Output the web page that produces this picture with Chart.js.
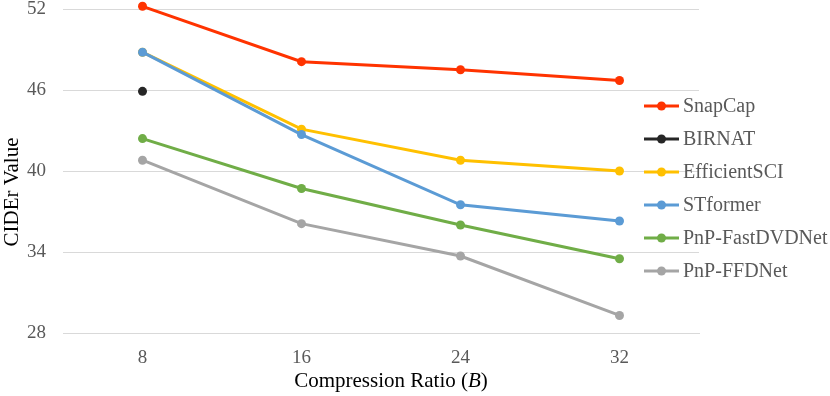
<!DOCTYPE html>
<html>
<head>
<meta charset="utf-8">
<script src="https://cdn.jsdelivr.net/npm/chart.js@4.4.1/dist/chart.umd.min.js"></script>
<style>
  html, body { margin: 0; padding: 0; background: #fff; }
  #wrap { width: 830px; height: 396px; position: relative; }
</style>
</head>
<body>
<div id="wrap"><canvas id="c" width="830" height="396"></canvas></div>
<script>
const categories = ['8', '16', '24', '32'];
const seriesNames = ['SnapCap', 'BIRNAT', 'EfficientSCI', 'STformer', 'PnP-FastDVDNet', 'PnP-FFDNet'];
const snapCap = [52.2, 48.1, 47.5, 46.7];
const birnat = [45.9, null, null, null];
const efficientSCI = [48.8, 43.1, 40.8, 40.0];
const stformer = [48.8, 42.7, 37.5, 36.3];
const pnpFastDVDNet = [42.4, 38.7, 36.0, 33.5];
const pnpFFDNet = [40.8, 36.1, 33.7, 29.3];
const yTicks = [28, 34, 40, 46, 52];
const colors = ['#FF3300', '#262626', '#FFC000', '#5B9BD5', '#70AD47', '#A5A5A5'];

const seriesValues = [snapCap, birnat, efficientSCI, stformer, pnpFastDVDNet, pnpFFDNet];
const serif = "'Liberation Serif', 'Times New Roman', serif";

const datasets = seriesNames.map((name, i) => ({
  label: name,
  data: seriesValues[i],
  borderColor: colors[i],
  backgroundColor: colors[i],
  pointBackgroundColor: colors[i],
  pointBorderColor: colors[i],
  borderWidth: 3,
  pointRadius: 4.5,
  pointHoverRadius: 5,
  pointBorderWidth: 0,
  tension: 0,
  clip: false,
  spanGaps: false,
  order: seriesNames.length - i
}));

const customLegendAndTitles = {
  id: 'customLegendAndTitles',
  afterDraw(chart) {
    const ctx = chart.ctx;
    const ca = chart.chartArea;
    ctx.save();
    // legend
    const lx0 = 644, lx1 = 679, rowTop = 106, rowGap = 33;
    chart.data.datasets.forEach((ds, i) => {
      const y = rowTop + i * rowGap;
      ctx.strokeStyle = ds.borderColor;
      ctx.lineWidth = 3;
      ctx.beginPath();
      ctx.moveTo(lx0, y);
      ctx.lineTo(lx1, y);
      ctx.stroke();
      ctx.fillStyle = ds.borderColor;
      ctx.beginPath();
      ctx.arc((lx0 + lx1) / 2, y, 4.5, 0, Math.PI * 2);
      ctx.fill();
      ctx.fillStyle = '#595959';
      ctx.font = '20px ' + serif;
      ctx.textAlign = 'left';
      ctx.textBaseline = 'middle';
      ctx.fillText(ds.label, lx1 + 4, y + 1);
    });
    // x title with italic B
    const parts = [
      { t: 'Compression Ratio (', f: '21px ' + serif },
      { t: 'B', f: 'italic 21px ' + serif },
      { t: ')', f: '21px ' + serif }
    ];
    let total = 0;
    parts.forEach(p => { ctx.font = p.f; p.w = ctx.measureText(p.t).width; total += p.w; });
    let x = (ca.left + ca.right) / 2 + 10 - total / 2;
    const yT = 381;
    ctx.fillStyle = '#000';
    ctx.textAlign = 'left';
    ctx.textBaseline = 'middle';
    parts.forEach(p => { ctx.font = p.f; ctx.fillText(p.t, x, yT); x += p.w; });
    // y title
    ctx.translate(12, 192);
    ctx.rotate(-Math.PI / 2);
    ctx.font = '21px ' + serif;
    ctx.textAlign = 'center';
    ctx.textBaseline = 'middle';
    ctx.fillText('CIDEr Value', 0, 0);
    ctx.restore();
  }
};

new Chart(document.getElementById('c'), {
  type: 'line',
  data: { labels: categories, datasets: datasets },
  options: {
    responsive: false,
    animation: false,
    devicePixelRatio: 1,
    layout: { autoPadding: false, padding: { left: 27, right: 131, top: 9, bottom: 29 } },
    plugins: {
      legend: { display: false },
      tooltip: { enabled: false }
    },
    scales: {
      x: {
        offset: true,
        grid: { display: false, drawTicks: false },
        border: { display: true, color: '#D9D9D9', width: 1 },
        ticks: { color: '#595959', font: { family: serif, size: 19, lineHeight: 1 }, padding: 16 },
        afterFit(scale) {
          scale.height = 34;
          scale.paddingLeft = 0; scale.paddingRight = 0;
          scale.paddingTop = 0; scale.paddingBottom = 0;
        }
      },
      y: {
        min: 28,
        max: 52,
        afterBuildTicks(scale) { scale.ticks = yTicks.map(v => ({ value: v })); },
        grid: { color: '#D9D9D9', lineWidth: 1, drawTicks: false },
        border: { display: false },
        ticks: { color: '#595959', font: { family: serif, size: 19, lineHeight: 1 }, padding: 17 },
        afterFit(scale) {
          scale.width = 36;
          scale.paddingTop = 0; scale.paddingBottom = 0;
          scale.paddingLeft = 0; scale.paddingRight = 0;
        }
      }
    }
  },
  plugins: [customLegendAndTitles]
});
</script>
</body>
</html>
